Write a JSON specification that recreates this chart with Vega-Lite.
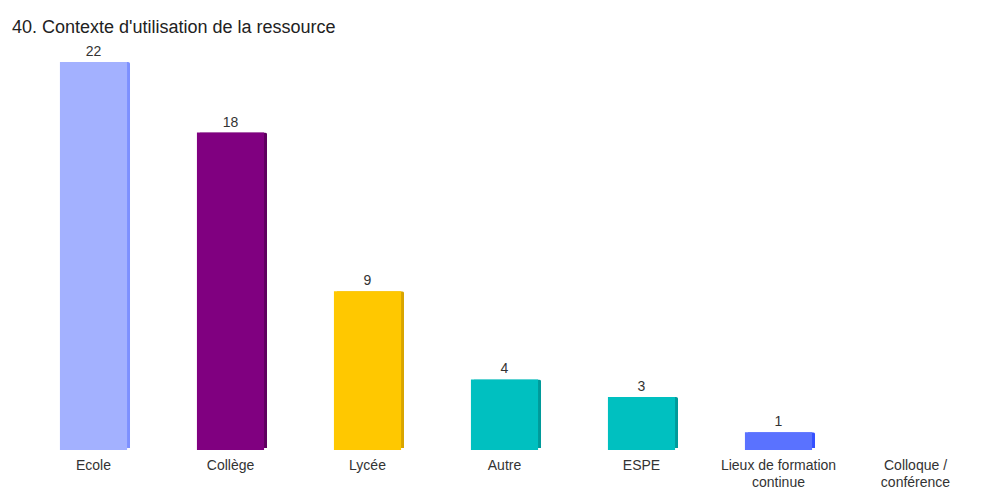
{
  "$schema": "https://vega.github.io/schema/vega-lite/v6.json",
  "autosize": {"type": "none"},
  "width": 959,
  "height": 388,
  "padding": {"left": 25, "top": 62, "right": 0, "bottom": 51},
  "background": "white",
  "config": {"view": {"stroke": null}, "font": "Liberation Sans"},
  "title": {
    "text": "40. Contexte d'utilisation de la ressource",
    "anchor": "start",
    "frame": "group",
    "dx": -13,
    "offset": 8,
    "fontSize": 18,
    "fontWeight": "normal",
    "color": "#222222",
    "font": "Liberation Sans"
  },
  "data": {
    "values": [
      {"lieu": "Ecole", "n": 22},
      {"lieu": "Collège", "n": 18},
      {"lieu": "Lycée", "n": 9},
      {"lieu": "Autre", "n": 4},
      {"lieu": "ESPE", "n": 3},
      {"lieu": "Lieux de formation continue", "n": 1},
      {"lieu": "Colloque / conférence", "n": 0}
    ]
  },
  "encoding": {
    "x": {
      "field": "lieu",
      "type": "nominal",
      "sort": null,
      "scale": {"paddingInner": 0.51, "paddingOuter": 0.255},
      "axis": {
        "title": null,
        "domain": false,
        "ticks": false,
        "labelAngle": 0,
        "labelPadding": 8,
        "labelFontSize": 14,
        "labelColor": "#333333",
        "labelFont": "Liberation Sans",
        "labelLineHeight": 17,
        "labelExpr": "datum.value == 'Lieux de formation continue' ? ['Lieux de formation', 'continue'] : datum.value == 'Colloque / conférence' ? ['Colloque /', 'conférence'] : datum.value"
      }
    },
    "y": {
      "field": "n",
      "type": "quantitative",
      "scale": {"domain": [0, 22], "nice": false},
      "axis": null
    }
  },
  "layer": [
    {
      "transform": [{"filter": "datum.n > 0"}],
      "mark": {"type": "bar", "xOffset": 3, "yOffset": -2, "cornerRadiusTopRight": 2},
      "encoding": {
        "color": {
          "field": "lieu",
          "type": "nominal",
          "sort": null,
          "legend": null,
          "scale": {
            "domain": ["Ecole", "Collège", "Lycée", "Autre", "ESPE", "Lieux de formation continue", "Colloque / conférence"],
            "range": ["#7d90ff", "#5e005e", "#d9a500", "#009a9a", "#009a9a", "#3550ff", "#999999"]
          }
        }
      }
    },
    {
      "mark": {"type": "bar"},
      "encoding": {
        "fill": {
          "field": "lieu",
          "type": "nominal",
          "sort": null,
          "legend": null,
          "scale": {
            "domain": ["Ecole", "Collège", "Lycée", "Autre", "ESPE", "Lieux de formation continue", "Colloque / conférence"],
            "range": ["#a3b1ff", "#800080", "#ffc800", "#00c0c0", "#00c0c0", "#5a72ff", "#cccccc"]
          }
        }
      }
    },
    {
      "transform": [{"filter": "datum.n > 0"}],
      "mark": {"type": "text", "baseline": "bottom", "dy": -3, "fontSize": 14, "color": "#333333", "font": "Liberation Sans"},
      "encoding": {"text": {"field": "n", "type": "quantitative"}}
    }
  ],
  "resolve": {"scale": {"color": "independent", "fill": "independent"}}
}
